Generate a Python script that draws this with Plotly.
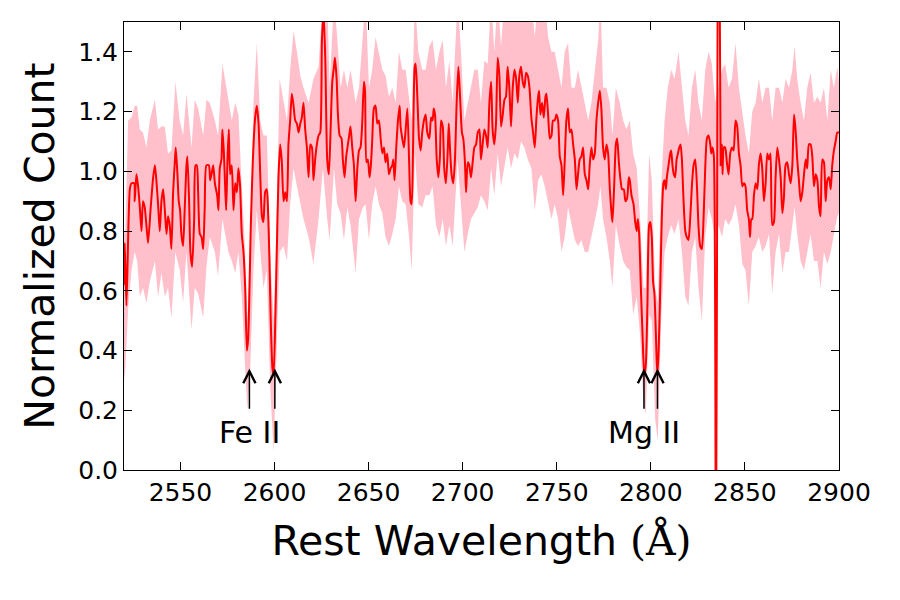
import plotly.graph_objects as go

# Smoothed spectrum (rest wavelength in Angstrom, normalized count)
red_wave = [2520.0, 2520.4, 2521.3, 2523.1, 2524.0, 2525.4, 2525.7, 2526.6, 2527.5, 2528.4, 2529.3, 2530.1, 2531.0,
            2531.9, 2532.8, 2534.2, 2535.5, 2536.4, 2537.2, 2538.1, 2539.0, 2539.9, 2540.8, 2541.7, 2542.6,
            2543.4, 2544.3, 2545.2, 2546.1, 2547.0, 2547.5, 2548.4, 2549.1, 2549.8, 2550.5, 2551.4, 2552.3,
            2553.2, 2553.7, 2554.6, 2555.3, 2556.2, 2557.3, 2558.0, 2558.7, 2559.4, 2560.3, 2561.2, 2562.1,
            2562.9, 2563.8, 2565.1, 2565.8, 2566.5, 2567.4, 2568.3, 2569.5, 2570.2, 2570.9, 2571.8, 2572.3,
            2573.1, 2573.8, 2574.3, 2575.0, 2575.7, 2576.4, 2577.3, 2578.2, 2579.1, 2580.0, 2580.8, 2581.7,
            2582.6, 2583.5, 2584.4, 2585.3, 2586.0, 2586.7, 2587.4, 2588.5, 2589.7, 2590.6, 2591.5, 2592.4,
            2593.3, 2594.1, 2595.0, 2595.9, 2596.5, 2597.2, 2598.0, 2598.9, 2599.5, 2600.4, 2601.2, 2602.1,
            2603.0, 2603.9, 2604.8, 2605.7, 2606.6, 2607.4, 2608.3, 2609.2, 2610.1, 2611.0, 2611.9, 2612.8,
            2613.7, 2614.5, 2615.4, 2616.3, 2617.2, 2618.1, 2619.0, 2619.9, 2620.7, 2621.6, 2622.5, 2623.4,
            2624.3, 2625.2, 2626.1, 2627.0, 2628.0, 2628.9, 2629.8, 2630.7, 2631.6, 2632.1, 2633.0, 2633.7,
            2634.6, 2635.6, 2636.3, 2637.2, 2638.1, 2639.0, 2639.9, 2640.4, 2641.3, 2642.2, 2643.1, 2644.0,
            2644.9, 2645.7, 2646.6, 2647.5, 2648.1, 2648.8, 2649.6, 2650.5, 2651.2, 2651.9, 2652.8, 2653.7,
            2654.6, 2655.5, 2656.4, 2657.3, 2658.2, 2659.0, 2659.9, 2660.8, 2661.7, 2662.6, 2663.1, 2663.8,
            2664.7, 2665.6, 2666.5, 2667.0, 2667.9, 2668.8, 2669.7, 2670.6, 2671.5, 2672.3, 2672.9, 2673.6,
            2674.5, 2675.0, 2675.9, 2676.8, 2677.7, 2678.5, 2679.4, 2680.3, 2681.2, 2682.3, 2683.2, 2684.0,
            2684.6, 2685.3, 2686.2, 2687.1, 2687.9, 2688.5, 2689.4, 2690.2, 2691.1, 2692.0, 2692.6, 2693.3,
            2694.1, 2695.0, 2695.9, 2696.8, 2697.7, 2698.6, 2699.6, 2700.3, 2701.2, 2701.8, 2702.7, 2703.5,
            2704.4, 2705.3, 2706.2, 2707.1, 2708.0, 2708.9, 2709.7, 2710.6, 2711.5, 2712.4, 2713.3, 2714.2,
            2715.1, 2715.9, 2716.8, 2717.7, 2718.6, 2719.5, 2720.4, 2721.3, 2722.2, 2723.0, 2723.9, 2724.8,
            2725.7, 2726.6, 2727.5, 2728.4, 2729.3, 2730.1, 2731.0, 2731.9, 2732.8, 2733.7, 2734.6, 2735.5,
            2736.5, 2737.4, 2738.3, 2739.2, 2740.1, 2740.6, 2741.3, 2742.2, 2743.1, 2744.0, 2744.5, 2745.4,
            2746.3, 2747.2, 2748.0, 2748.9, 2749.8, 2750.7, 2751.6, 2752.5, 2753.4, 2754.2, 2755.1, 2756.0,
            2756.9, 2757.8, 2758.7, 2759.6, 2760.5, 2761.3, 2762.2, 2763.1, 2764.0, 2764.9, 2765.8, 2766.7,
            2767.5, 2768.4, 2769.3, 2770.2, 2771.1, 2772.0, 2772.9, 2773.7, 2774.6, 2775.5, 2776.4, 2777.3,
            2778.2, 2779.1, 2779.6, 2780.5, 2781.4, 2782.1, 2783.0, 2783.9, 2784.7, 2785.6, 2786.5, 2787.4,
            2788.3, 2788.8, 2789.7, 2790.8, 2791.7, 2792.5, 2793.1, 2793.8, 2794.7, 2795.6, 2796.5, 2797.3,
            2798.2, 2799.1, 2799.8, 2800.5, 2801.2, 2801.9, 2802.7, 2803.4, 2804.1, 2805.0, 2805.8, 2806.7,
            2807.3, 2808.0, 2808.5, 2809.4, 2810.3, 2810.8, 2811.5, 2812.2, 2812.9, 2813.7, 2814.4, 2815.1,
            2815.8, 2816.5, 2817.4, 2818.3, 2819.1, 2820.0, 2820.9, 2821.8, 2822.7, 2823.6, 2824.5, 2825.3,
            2826.2, 2827.1, 2828.0, 2828.9, 2829.8, 2830.7, 2831.6, 2832.1, 2832.8, 2833.5, 2834.6, 2836.0,
            2837.1, 2837.8, 2838.1, 2838.8, 2839.5, 2840.4, 2841.3, 2842.2, 2843.1, 2844.0, 2845.0, 2845.9,
            2846.8, 2847.7, 2848.6, 2849.5, 2850.3, 2851.2, 2852.1, 2852.7, 2853.4, 2853.9, 2854.8, 2855.7,
            2856.6, 2857.4, 2858.3, 2859.2, 2860.1, 2861.0, 2861.9, 2862.8, 2863.6, 2864.5, 2865.4, 2866.3,
            2867.2, 2868.1, 2869.0, 2869.9, 2870.7, 2871.6, 2872.5, 2873.4, 2874.3, 2875.2, 2876.1, 2876.9,
            2877.8, 2878.7, 2879.6, 2880.5, 2881.4, 2882.3, 2883.1, 2884.0, 2884.9, 2885.8, 2886.7, 2887.6,
            2888.5, 2889.4, 2890.2, 2891.1, 2892.0, 2892.9, 2893.8, 2894.7, 2895.6, 2896.4, 2897.3, 2898.2,
            2899.1, 2900.0]
red_flux = [0.62, 0.76, 0.55, 0.94, 0.96, 0.96, 0.90, 0.99, 0.95, 0.88, 0.80, 0.90, 0.88,
            0.82, 0.76, 0.88, 0.98, 1.02, 0.97, 0.89, 0.80, 0.90, 0.94, 0.87, 0.79,
            0.85, 0.82, 0.74, 0.93, 1.03, 1.08, 0.99, 0.90, 0.87, 0.79, 0.75, 0.88,
            1.02, 1.05, 0.90, 0.73, 0.68, 0.84, 1.02, 1.02, 0.93, 0.79, 0.78, 0.74,
            0.88, 1.02, 1.02, 0.97, 0.99, 1.02, 0.96, 0.92, 0.87, 1.01, 1.04, 1.14,
            1.06, 0.94, 0.87, 1.04, 1.14, 0.99, 1.02, 0.87, 0.96, 0.93, 1.01, 0.95,
            0.79, 0.73, 0.61, 0.40, 0.44, 0.61, 0.82, 1.04, 1.18, 1.22, 1.16, 0.99,
            0.85, 0.83, 0.93, 0.94, 0.88, 0.73, 0.50, 0.34, 0.32, 0.50, 0.73, 0.98,
            1.09, 1.03, 0.90, 0.93, 0.90, 1.09, 1.17, 1.26, 1.22, 1.17, 1.16, 1.13,
            1.16, 1.18, 1.23, 1.14, 1.08, 0.98, 1.09, 1.08, 0.97, 1.04, 1.09, 1.12,
            1.13, 1.44, 1.53, 1.37, 1.04, 0.99, 1.14, 1.30, 1.35, 1.38, 1.31, 1.19,
            1.12, 1.11, 1.04, 0.98, 1.05, 1.09, 1.13, 1.15, 1.08, 1.02, 0.90, 1.01,
            1.07, 1.08, 1.16, 1.30, 1.27, 1.03, 1.04, 0.98, 1.02, 1.10, 1.21, 1.22,
            1.16, 1.17, 1.11, 1.06, 1.08, 1.03, 1.06, 0.99, 1.01, 1.02, 1.04, 0.97,
            1.08, 1.17, 1.22, 1.15, 1.11, 1.08, 1.14, 1.21, 1.04, 0.90, 0.89, 1.07,
            1.35, 1.36, 1.25, 1.11, 1.07, 1.13, 1.17, 1.19, 1.13, 1.11, 1.18, 1.17,
            1.21, 1.19, 1.04, 0.98, 1.05, 1.17, 1.15, 1.01, 0.96, 1.06, 1.16, 1.07,
            0.99, 0.96, 1.04, 1.23, 1.35, 1.25, 1.13, 1.11, 1.03, 0.93, 1.03, 1.02,
            0.98, 1.03, 1.08, 1.09, 1.13, 1.14, 1.04, 1.09, 1.14, 1.12, 1.08, 1.23,
            1.30, 1.14, 1.09, 1.16, 1.38, 1.32, 1.15, 1.19, 1.24, 1.25, 1.35, 1.28,
            1.15, 1.28, 1.34, 1.31, 1.23, 1.32, 1.35, 1.30, 1.28, 1.33, 1.32, 1.28,
            1.18, 1.13, 1.08, 1.18, 1.25, 1.27, 1.19, 1.23, 1.18, 1.25, 1.26, 1.19,
            1.11, 1.12, 1.17, 1.17, 1.19, 1.17, 1.05, 1.02, 0.92, 1.03, 1.17, 1.21,
            1.13, 1.14, 1.09, 1.04, 0.94, 0.99, 1.04, 1.05, 1.08, 0.99, 0.97, 0.94,
            1.02, 1.08, 1.04, 1.06, 1.17, 1.23, 1.27, 1.21, 1.08, 1.04, 1.09, 1.06,
            0.94, 0.86, 0.83, 0.95, 1.09, 1.11, 1.03, 0.97, 0.94, 0.94, 0.90, 0.91,
            0.98, 0.97, 0.92, 0.89, 0.83, 0.80, 0.84, 0.79, 0.61, 0.45, 0.32, 0.35,
            0.56, 0.82, 0.83, 0.78, 0.63, 0.59, 0.45, 0.32, 0.39, 0.61, 0.84, 0.96,
            0.97, 0.94, 0.98, 1.02, 1.06, 1.07, 1.02, 0.99, 0.98, 1.04, 1.06, 1.08,
            1.09, 1.04, 0.90, 0.80, 0.78, 0.77, 0.84, 0.95, 1.02, 1.04, 0.95, 0.82,
            0.75, 0.74, 0.84, 1.01, 1.11, 1.12, 1.09, 1.06, 1.08, 1.05, -0.50, 2.60,
            1.02, 1.09, 0.99, 1.08, 1.08, 1.03, 0.99, 1.06, 1.08, 1.07, 1.17, 1.15,
            1.06, 1.02, 0.95, 0.96, 0.95, 0.87, 0.84, 0.78, 0.84, 0.84, 0.92, 0.96,
            0.94, 1.02, 1.06, 1.01, 0.90, 0.96, 1.06, 1.04, 1.06, 0.82, 0.83, 0.98,
            1.08, 1.04, 0.98, 0.86, 0.91, 1.02, 1.03, 0.99, 0.96, 1.02, 1.19, 1.14,
            1.04, 0.97, 0.90, 0.93, 0.99, 1.04, 1.01, 1.09, 1.09, 1.05, 0.95, 0.99,
            0.97, 0.88, 0.85, 1.04, 1.03, 0.90, 0.97, 0.98, 0.94, 1.02, 1.07, 1.10,
            1.13, 1.13]

# Uncertainty band (lower / upper envelope)
band_wave = [2520.0, 2520.7, 2522.2, 2524.0, 2525.7, 2527.0, 2528.4, 2530.1, 2531.9, 2533.7, 2536.4, 2538.1,
             2539.9, 2541.7, 2543.4, 2545.2, 2547.3, 2549.6, 2551.4, 2553.2, 2555.9, 2557.6, 2559.4, 2562.1,
             2563.8, 2565.6, 2568.3, 2570.0, 2572.3, 2575.5, 2577.3, 2579.1, 2580.8, 2582.6, 2584.4, 2585.6,
             2587.1, 2588.8, 2590.6, 2592.4, 2594.1, 2595.9, 2597.7, 2599.5, 2600.9, 2602.7, 2604.8, 2606.6,
             2608.3, 2610.1, 2611.9, 2613.7, 2615.4, 2618.1, 2620.7, 2623.4, 2625.7, 2628.0, 2629.3, 2631.6,
             2633.3, 2635.1, 2636.9, 2638.7, 2640.4, 2643.1, 2644.9, 2647.0, 2648.4, 2650.2, 2651.9, 2653.7,
             2655.5, 2657.3, 2659.0, 2660.8, 2662.6, 2664.4, 2666.1, 2667.9, 2669.7, 2671.5, 2672.9, 2674.6,
             2676.4, 2678.5, 2680.3, 2682.3, 2684.0, 2685.8, 2687.6, 2689.4, 2691.1, 2692.9, 2694.7, 2697.3,
             2699.1, 2700.9, 2702.7, 2704.4, 2706.2, 2708.0, 2709.7, 2711.5, 2713.3, 2715.1, 2716.8, 2718.6,
             2720.4, 2722.2, 2723.9, 2725.7, 2727.5, 2729.3, 2731.0, 2732.8, 2734.6, 2736.5, 2738.3, 2740.1,
             2741.8, 2743.6, 2745.4, 2747.2, 2748.9, 2750.7, 2752.5, 2754.2, 2756.0, 2757.8, 2759.6, 2761.3,
             2763.1, 2764.9, 2766.7, 2768.4, 2770.2, 2772.0, 2773.2, 2774.6, 2776.4, 2778.2, 2779.6, 2781.4,
             2783.5, 2785.3, 2787.0, 2788.8, 2790.6, 2792.5, 2794.3, 2796.1, 2797.3, 2799.1, 2800.5, 2802.3,
             2803.7, 2805.5, 2807.3, 2809.0, 2810.8, 2812.6, 2814.7, 2816.5, 2818.3, 2820.0, 2821.8, 2823.6,
             2825.3, 2827.1, 2828.9, 2830.7, 2832.4, 2834.2, 2836.0, 2837.8, 2839.5, 2841.3, 2843.1, 2845.0,
             2846.8, 2848.6, 2850.3, 2852.1, 2853.9, 2855.7, 2857.4, 2859.2, 2861.0, 2862.8, 2864.5, 2866.3,
             2868.1, 2869.9, 2871.6, 2873.4, 2875.2, 2876.4, 2877.8, 2879.6, 2881.4, 2883.1, 2884.9, 2886.7,
             2888.5, 2890.2, 2892.0, 2893.8, 2895.6, 2897.3, 2899.1, 2900.0]
band_upper = [0.80, 0.79, 1.17, 1.18, 1.22, 1.22, 1.14, 1.13, 1.08, 1.17, 1.24, 1.14,
              1.15, 1.15, 1.06, 1.07, 1.30, 1.17, 1.12, 1.26, 1.08, 1.24, 1.21, 1.12,
              1.24, 1.23, 1.17, 1.12, 1.36, 1.23, 1.17, 1.23, 1.19, 0.95, 0.73, 0.50,
              0.78, 1.23, 1.43, 1.17, 1.12, 1.12, 0.73, 0.50, 0.78, 1.31, 1.23, 1.17,
              1.34, 1.47, 1.40, 1.32, 1.28, 1.23, 1.31, 1.35, 1.58, 1.58, 1.28, 1.58,
              1.45, 1.28, 1.34, 1.28, 1.34, 1.23, 1.28, 1.47, 1.58, 1.28, 1.34, 1.45,
              1.40, 1.34, 1.32, 1.25, 1.28, 1.23, 1.40, 1.34, 1.34, 1.25, 1.17, 1.58,
              1.40, 1.34, 1.34, 1.42, 1.44, 1.34, 1.40, 1.44, 1.28, 1.37, 1.23, 1.58,
              1.40, 1.17, 1.23, 1.28, 1.34, 1.34, 1.23, 1.37, 1.36, 1.58, 1.40, 1.58,
              1.42, 1.58, 1.58, 1.58, 1.58, 1.58, 1.58, 1.58, 1.58, 1.58, 1.45, 1.58,
              1.58, 1.58, 1.45, 1.40, 1.40, 1.34, 1.28, 1.40, 1.43, 1.28, 1.28, 1.34,
              1.28, 1.23, 1.17, 1.23, 1.34, 1.44, 1.58, 1.28, 1.28, 1.23, 1.12, 1.28,
              1.23, 1.17, 1.14, 1.17, 1.06, 1.01, 0.84, 0.61, 0.61, 1.06, 0.97, 0.61,
              0.56, 0.95, 1.17, 1.28, 1.34, 1.31, 1.40, 1.28, 1.17, 1.12, 1.28, 1.34,
              1.23, 1.17, 1.34, 1.40, 1.36, 1.23, 1.28, 1.34, 1.36, 1.28, 1.31, 1.43,
              1.28, 1.20, 1.12, 1.06, 1.20, 1.23, 1.31, 1.23, 1.28, 1.28, 1.17, 1.28,
              1.28, 1.23, 1.31, 1.28, 1.34, 1.42, 1.31, 1.23, 1.17, 1.28, 1.33, 1.23,
              1.25, 1.23, 1.28, 1.17, 1.34, 1.28, 1.35, 1.30]
band_lower = [0.30, 0.34, 0.54, 0.67, 0.73, 0.70, 0.58, 0.61, 0.56, 0.63, 0.70, 0.58,
              0.66, 0.58, 0.61, 0.51, 0.73, 0.67, 0.56, 0.73, 0.47, 0.61, 0.59, 0.51,
              0.68, 0.78, 0.73, 0.65, 0.84, 0.73, 0.70, 0.66, 0.73, 0.58, 0.34, 0.20,
              0.34, 0.67, 0.87, 0.73, 0.61, 0.67, 0.28, 0.06, 0.34, 0.73, 0.75, 0.70,
              0.89, 1.01, 0.95, 0.89, 0.84, 0.78, 0.69, 0.84, 1.01, 0.84, 0.77, 1.01,
              0.89, 0.86, 0.77, 0.88, 0.82, 0.66, 0.84, 0.88, 0.89, 0.77, 0.89, 0.95,
              0.89, 0.86, 0.78, 0.75, 0.79, 0.84, 0.95, 0.90, 0.89, 0.78, 0.67, 1.06,
              0.89, 0.88, 0.92, 0.92, 0.95, 0.82, 0.78, 0.84, 0.75, 0.82, 0.75, 1.04,
              0.89, 0.73, 0.79, 0.84, 0.86, 0.88, 0.92, 0.90, 0.87, 1.01, 0.92, 1.06,
              0.95, 1.02, 1.08, 1.01, 1.06, 1.04, 1.10, 1.08, 1.04, 1.01, 0.87, 0.97,
              0.99, 0.95, 0.89, 0.84, 0.89, 0.84, 0.73, 0.78, 0.88, 0.82, 0.77, 0.75,
              0.77, 0.73, 0.73, 0.78, 0.84, 0.89, 0.95, 0.84, 0.78, 0.70, 0.61, 0.82,
              0.75, 0.70, 0.68, 0.67, 0.52, 0.58, 0.45, 0.22, 0.19, 0.52, 0.50, 0.17,
              0.10, 0.50, 0.73, 0.78, 0.82, 0.79, 0.84, 0.73, 0.58, 0.55, 0.73, 0.78,
              0.61, 0.50, 0.78, 0.88, 0.84, 0.78, 0.82, 0.78, 0.84, 0.82, 0.84, 0.89,
              0.82, 0.69, 0.67, 0.55, 0.73, 0.75, 0.78, 0.73, 0.75, 0.79, 0.59, 0.73,
              0.79, 0.66, 0.73, 0.73, 0.82, 0.88, 0.79, 0.70, 0.67, 0.73, 0.79, 0.70,
              0.70, 0.61, 0.73, 0.69, 0.73, 0.79, 0.85, 0.86]

# Absorption lines
line_names = ["Fe II", "Mg II"]
line_waves = [[2586.65, 2600.17], [2796.35, 2803.53]]

x_ticks = [2550, 2600, 2650, 2700, 2750, 2800, 2850, 2900]
y_ticks = [0.0, 0.2, 0.4, 0.6, 0.8, 1.0, 1.2, 1.4]

FONT = "DejaVu Sans"

fig = go.Figure()
fig.add_trace(go.Scatter(x=band_wave, y=band_lower, mode="lines", line=dict(width=0, color="pink"),
                         hoverinfo="skip", showlegend=False))
fig.add_trace(go.Scatter(x=band_wave, y=band_upper, mode="lines", line=dict(width=0, color="pink"),
                         fill="tonexty", fillcolor="#FFC0CB", hoverinfo="skip", showlegend=False))
fig.add_trace(go.Scatter(x=red_wave, y=red_flux, mode="lines",
                         line=dict(width=2, color="#FF0000", shape="spline", smoothing=0.6),
                         showlegend=False))

annotations = []
for name, waves in zip(line_names, line_waves):
    for w in waves:
        annotations.append(dict(x=w, y=0.34, ax=w, ay=0.2, xref="x", yref="y", axref="x", ayref="y",
                                text="", showarrow=True, arrowhead=5, arrowsize=1.6, arrowwidth=1.5,
                                arrowcolor="black"))
    annotations.append(dict(x=waves[0], y=0.125, xref="x", yref="y", text=name, showarrow=False,
                            font=dict(family=FONT, size=30, color="black"), xanchor="center", yanchor="middle"))

axis_common = dict(showline=True, linecolor="black", linewidth=1, mirror="ticks", ticks="inside",
                   ticklen=8, tickwidth=1, tickcolor="black", showgrid=False, zeroline=False,
                   tickfont=dict(family=FONT, size=25, color="black"))

fig.update_layout(
    width=900, height=600,
    margin=dict(l=124, r=61, t=22, b=130),
    paper_bgcolor="white", plot_bgcolor="white",
    xaxis=dict(range=[2520, 2900], tickvals=x_ticks, ticktext=[str(t) for t in x_ticks],
               title=dict(text='Rest Wavelength <span style="font-family:DejaVu Serif">(Å)</span>',
                          font=dict(family=FONT, size=41, color="black"), standoff=20),
               **axis_common),
    yaxis=dict(range=[0, 1.5], tickvals=y_ticks, ticktext=[f"{t:.1f}" for t in y_ticks],
               title=dict(text="Normalized Count", font=dict(family=FONT, size=41, color="black"), standoff=10),
               **axis_common),
    annotations=annotations,
)

fig.write_html("out.html")
